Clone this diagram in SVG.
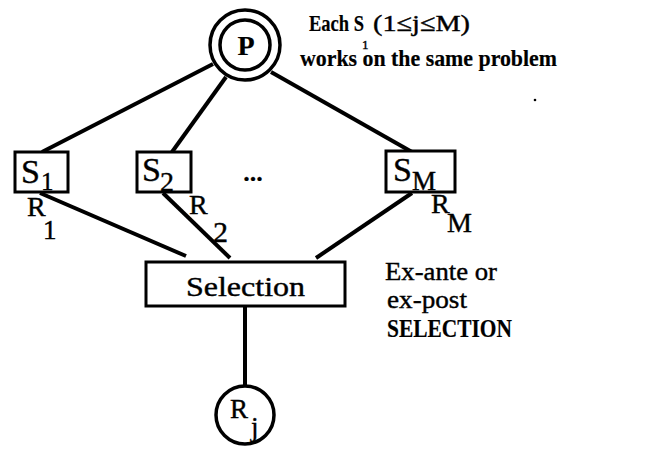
<svg xmlns="http://www.w3.org/2000/svg" width="655" height="467" viewBox="0 0 655 467">
  <style>
    .ln { stroke: #000; stroke-width: 4; fill: none; stroke-linecap: butt; }
    .box { stroke: #000; stroke-width: 3; fill: #fff; }
    .circ { stroke: #000; stroke-width: 3.5; fill: #fff; }
    text { font-family: 'Liberation Serif', 'Times New Roman', serif; fill: #000; stroke: #000; stroke-width: 0.4; }
    .b { font-weight: bold; stroke-width: 0.2; }
  </style>
  <rect width="655" height="467" fill="#fff"/>

  <!-- connectors -->
  <g id="connectors">
    <line class="ln" x1="213" y1="64" x2="42" y2="152"/>
    <line class="ln" x1="226" y1="77" x2="172" y2="152"/>
    <line class="ln" x1="271" y1="72" x2="412" y2="152"/>
    <line class="ln" x1="40" y1="193" x2="186" y2="256"/>
    <line class="ln" x1="163" y1="193" x2="230" y2="258"/>
    <line class="ln" x1="412" y1="193" x2="316" y2="258"/>
    <line class="ln" x1="245" y1="306" x2="245" y2="386" stroke-width="3"/>
  </g>

  <!-- root problem P -->
  <g id="node-P">
    <circle class="circ" cx="245" cy="45" r="35"/>
    <circle class="circ" cx="245" cy="45" r="25"/>
    <text class="b" x="246" y="55" font-size="28" text-anchor="middle">P</text>
  </g>

  <!-- solvers -->
  <g id="node-S1">
    <rect class="box" x="15" y="152" width="53" height="40"/>
    <text x="21" y="183" font-size="34">S</text>
    <text x="41" y="190" font-size="25">1</text>
  </g>
  <g id="node-S2">
    <rect class="box" x="137" y="152" width="54" height="40"/>
    <text x="142" y="181" font-size="34">S</text>
    <text x="160" y="191" font-size="28">2</text>
  </g>
  <g id="node-dots">
    <text class="b" x="253" y="181" font-size="26" text-anchor="middle">...</text>
  </g>
  <g id="node-SM">
    <rect class="box" x="386" y="151" width="69" height="41"/>
    <text x="393" y="181" font-size="34">S</text>
    <text x="412" y="190" font-size="27">M</text>
  </g>

  <!-- result labels -->
  <g id="labels-R">
    <text x="27" y="216" font-size="28">R</text>
    <text x="43" y="239" font-size="27">1</text>
    <text x="189" y="214" font-size="28">R</text>
    <text x="213" y="242" font-size="30">2</text>
    <text x="431" y="213" font-size="28">R</text>
    <text x="447" y="232" font-size="28">M</text>
  </g>

  <!-- selection -->
  <g id="node-Selection">
    <rect class="box" x="146" y="262" width="199" height="44"/>
    <text x="186" y="296" font-size="27" textLength="119" lengthAdjust="spacingAndGlyphs">Selection</text>
  </g>

  <!-- selected result -->
  <g id="node-Rj">
    <circle class="circ" cx="245" cy="415" r="29"/>
    <text x="230" y="418" font-size="27">R</text>
    <text x="251" y="436" font-size="27">j</text>
  </g>

  <!-- annotations -->
  <g id="notes">
    <text class="b" x="309" y="31" font-size="24" textLength="55" lengthAdjust="spacingAndGlyphs">Each S</text>
    <text x="373" y="31" font-size="24" textLength="97" lengthAdjust="spacingAndGlyphs">(1≤j≤M)</text>
    <text x="362" y="49" font-size="13">1</text>
    <text class="b" x="300" y="66" font-size="24" textLength="257" lengthAdjust="spacingAndGlyphs">works on the same problem</text>
    <text x="385" y="280" font-size="26" textLength="112" lengthAdjust="spacingAndGlyphs">Ex-ante or</text>
    <text x="387" y="308" font-size="26" textLength="80" lengthAdjust="spacingAndGlyphs">ex-post</text>
    <text class="b" x="387" y="337" font-size="25" textLength="125" lengthAdjust="spacingAndGlyphs">SELECTION</text>
    <circle cx="535" cy="100" r="1.3" fill="#000"/>
  </g>
</svg>
